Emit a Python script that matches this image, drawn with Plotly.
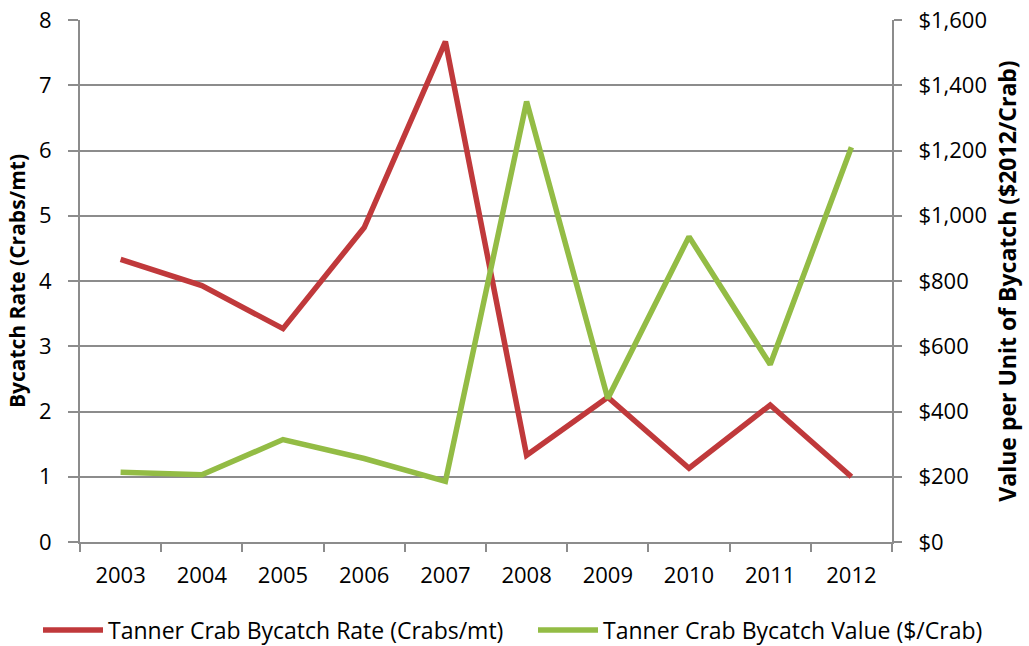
import plotly.graph_objects as go

years = ["2003", "2004", "2005", "2006", "2007", "2008", "2009", "2010", "2011", "2012"]
bycatch_rate = [4.33, 3.93, 3.27, 4.82, 7.67, 1.33, 2.22, 1.13, 2.10, 1.00]
bycatch_value = [214, 206, 314, 256, 186, 1350, 440, 936, 544, 1210]

left_ticks = [0, 1, 2, 3, 4, 5, 6, 7, 8]
right_ticks = [0, 200, 400, 600, 800, 1000, 1200, 1400, 1600]
right_labels = ["$0", "$200", "$400", "$600", "$800", "$1,000", "$1,200", "$1,400", "$1,600"]

FONT = "Open Sans, sans-serif"
GRID = "#8c8c8c"
W, H = 1029, 646

fig = go.Figure()
fig.add_trace(go.Scatter(
    x=years, y=bycatch_rate, mode="lines",
    line=dict(color="#C0393B", width=5.5),
    name="Tanner Crab Bycatch Rate (Crabs/mt)", legend="legend",
))
fig.add_trace(go.Scatter(
    x=years, y=bycatch_value, mode="lines", yaxis="y2",
    line=dict(color="#93BC45", width=5.5),
    name="Tanner Crab Bycatch Value ($/Crab)", legend="legend2",
))

legend_common = dict(
    orientation="h", xref="container", yref="container", xanchor="left",
    yanchor="middle", y=16 / H, font=dict(size=23), itemwidth=60,
    bgcolor="rgba(0,0,0,0)",
)

fig.update_layout(
    width=W, height=H,
    showlegend=True,
    margin=dict(l=80, r=137, t=20, b=104),
    plot_bgcolor="white", paper_bgcolor="white",
    font=dict(family=FONT, size=19, color="black"),
    xaxis=dict(
        type="category", range=[-0.5, 9.5], showgrid=False, showline=True,
        linecolor=GRID, linewidth=2, automargin=False,
        ticks="outside", tickson="boundaries", ticklen=8, tickcolor=GRID, tickwidth=2,
        tickfont=dict(size=22), ticklabelstandoff=13,
    ),
    yaxis=dict(
        range=[0, 8], tickvals=left_ticks, showgrid=True, gridcolor=GRID, gridwidth=1.5,
        showline=True, linecolor=GRID, linewidth=2, ticks="outside", ticklen=10,
        tickcolor=GRID, tickwidth=2, tickfont=dict(size=22), zeroline=False,
        automargin=False, ticklabelstandoff=12, ticklabeloverflow="allow",
        title=dict(text="<b>Bycatch Rate (Crabs/mt)</b>", font=dict(size=21), standoff=8),
    ),
    yaxis2=dict(
        range=[0, 1600], tickvals=right_ticks, ticktext=right_labels, overlaying="y",
        side="right", showgrid=False, showline=True, linecolor=GRID, linewidth=2,
        ticks="outside", ticklen=8, tickcolor=GRID, tickwidth=2, tickfont=dict(size=22),
        zeroline=False, automargin=False, ticklabelstandoff=12, ticklabeloverflow="allow",
        title=dict(text="<b>Value per Unit of Bycatch ($2012/Crab)</b>", font=dict(size=23), standoff=14),
    ),
    legend=dict(x=38 / W, **legend_common),
    legend2=dict(x=533 / W, **legend_common),
)

# drop the browser's default 8px body margin so the figure fills the window
fig.write_html("out.html", config={"displayModeBar": False},
               post_script="document.body.style.margin='0';")
